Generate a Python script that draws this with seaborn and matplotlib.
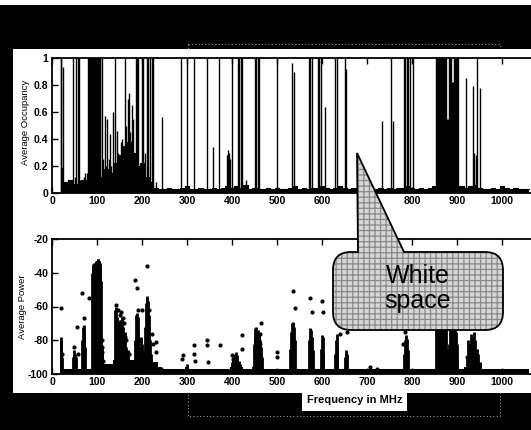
import matplotlib
matplotlib.use("Agg")
import matplotlib.pyplot as plt
import seaborn as sns
import pandas as pd
from matplotlib import patches, transforms, font_manager
from matplotlib.path import Path

# ---------------- data ----------------
# Average occupancy: individual channel lines
occ_freq = [19, 20, 22, 24, 27, 30, 35, 40, 44, 47, 50, 53, 57, 60, 63, 66, 70, 74, 77,
            80, 82, 84, 86, 88, 90, 92, 94, 96, 98, 100, 102, 104, 106, 107,
            111, 114, 117, 120, 123, 126, 129, 132, 136, 140, 144, 147, 150, 153, 156, 159,
            162, 165, 168, 171, 174, 177, 180, 183, 186, 189, 192, 196, 199, 203, 206, 211,
            214, 218, 222, 225, 230, 244, 287, 300, 316, 345, 358, 371, 389, 391, 393, 396,
            400, 413, 416, 419, 422, 430, 451, 454, 457, 460, 499, 534, 537, 571, 574, 577,
            591, 594, 598, 607, 629, 633, 650, 653, 733, 753, 758, 782, 785, 788, 791, 795,
            802, 853, 855, 857, 859, 861, 863, 865, 867, 869, 871, 873, 875, 877, 879, 881,
            883, 885, 887, 889, 891, 893, 895, 897, 899, 901, 920, 935, 938, 941, 945, 950]
occ_val = [1.0, 1.0, 0.19, 0.93, 0.08, 0.05, 0.1, 0.08, 0.06, 1.0, 0.12, 1.0, 1.0, 1.0, 0.1, 0.08, 0.12, 0.15, 0.15,
           1.0, 1.0, 1.0, 1.0, 1.0, 1.0, 1.0, 1.0, 1.0, 1.0, 1.0, 1.0, 1.0, 1.0, 1.0,
           1.0, 0.25, 0.57, 0.2, 0.55, 0.25, 0.44, 0.2, 0.6, 1.0, 0.46, 0.3, 0.25, 0.38, 0.4, 0.35,
           1.0, 0.5, 0.7, 0.74, 0.45, 0.65, 0.55, 0.3, 1.0, 1.0, 1.0, 0.2, 1.0, 1.0, 0.3, 1.0,
           1.0, 1.0, 1.0, 1.0, 0.08, 0.56, 1.0, 1.0, 1.0, 1.0, 0.34, 1.0, 0.28, 0.32, 0.3, 0.25,
           1.0, 1.0, 1.0, 1.0, 1.0, 0.1, 1.0, 1.0, 1.0, 1.0, 1.0, 0.96, 0.9, 1.0, 1.0, 1.0,
           1.0, 1.0, 1.0, 0.64, 1.0, 1.0, 1.0, 0.92, 0.53, 1.0, 0.53, 1.0, 1.0, 1.0, 1.0, 1.0,
           1.0, 1.0, 1.0, 1.0, 1.0, 1.0, 1.0, 1.0, 1.0, 1.0, 1.0, 1.0, 1.0, 0.55, 0.55, 1.0,
           1.0, 1.0, 1.0, 0.82, 0.82, 1.0, 1.0, 1.0, 1.0, 1.0, 0.85, 0.79, 0.3, 0.28, 1.0, 0.78]

# Occupancy noise floor (every 10 MHz)
floor_freq = [20, 30, 40, 50, 60, 70, 80, 90, 100, 110, 120, 130, 140, 150, 160, 170, 180, 190, 200, 210,
              220, 230, 240, 250, 260, 270, 280, 290, 300, 310, 320, 330, 340, 350, 360, 370, 380, 390, 400, 410,
              420, 430, 440, 450, 460, 470, 480, 490, 500, 510, 520, 530, 540, 550, 560, 570, 580, 590, 600, 610,
              620, 630, 640, 650, 660, 670, 680, 690, 700, 710, 720, 730, 740, 750, 760, 770, 780, 790, 800, 810,
              820, 830, 840, 850, 860, 870, 880, 890, 900, 910, 920, 930, 940, 950, 960, 970, 980, 990, 1000, 1010,
              1020, 1030, 1040, 1050, 1060]
floor_occ = [0.05, 0.08, 0.1, 0.07, 0.06, 0.1, 0.05, 0.05, 0.05, 0.12, 0.18, 0.15, 0.22, 0.28, 0.35, 0.38, 0.3, 0.2, 0.22, 0.12,
             0.08, 0.04, 0.03, 0.03, 0.04, 0.03, 0.03, 0.04, 0.05, 0.03, 0.03, 0.04, 0.03, 0.03, 0.04, 0.03, 0.04, 0.05, 0.04, 0.05,
             0.04, 0.06, 0.03, 0.04, 0.03, 0.03, 0.04, 0.03, 0.04, 0.03, 0.03, 0.04, 0.05, 0.03, 0.04, 0.03, 0.04, 0.04, 0.05, 0.04,
             0.03, 0.04, 0.05, 0.04, 0.03, 0.04, 0.03, 0.03, 0.04, 0.03, 0.03, 0.04, 0.03, 0.04, 0.03, 0.04, 0.04, 0.05, 0.04, 0.03,
             0.04, 0.03, 0.04, 0.05, 0.05, 0.05, 0.05, 0.05, 0.04, 0.05, 0.04, 0.05, 0.06, 0.04, 0.03, 0.03, 0.04, 0.03, 0.05, 0.04,
             0.03, 0.04, 0.03, 0.03, 0.03]

# Average power noise floor (dBm)
floor_pow = [-97, -97, -97, -97, -97, -97, -97, -97, -97, -94, -94, -94, -92, -92, -92, -92, -92, -92, -92, -92,
             -92, -93, -96, -97, -97, -97, -97, -97, -96, -97, -97, -97, -97, -97, -97, -97, -97, -97, -96, -96,
             -96, -97, -97, -96, -96, -97, -97, -97, -97, -97, -97, -97, -97, -97, -97, -97, -97, -97, -97, -97,
             -97, -97, -97, -97, -97, -97, -97, -97, -97, -97, -97, -97, -97, -97, -97, -97, -97, -96, -97, -97,
             -97, -97, -97, -97, -96, -96, -96, -96, -96, -97, -96, -96, -96, -97, -97, -97, -97, -97, -97, -97,
             -97, -97, -97, -97, -97]

# Dense columns of power samples: frequency and top of the column
col_freq = [19, 20, 21, 22, 46, 48, 50, 52, 54, 66, 68, 70, 72, 74,
            89, 90, 91, 92, 93, 94, 95, 96, 97, 98, 99, 100, 101, 102, 103, 104, 105, 106, 107, 108,
            110, 112, 140, 142, 144, 146, 148, 150, 152, 154, 156, 158, 160, 162, 164, 168,
            184, 186, 188, 190, 192, 194, 196, 198, 200, 203, 206, 208, 210, 212, 214, 216, 218, 220,
            300, 400, 403, 406, 409, 412, 415, 418,
            448, 450, 452, 454, 456, 458, 460, 462, 464, 466,
            529, 531, 533, 535, 537, 539, 571, 573, 575, 577, 579, 597, 599, 601, 603,
            628, 630, 632, 634, 651, 653, 655, 782, 784, 786, 788, 790,
            853, 855, 857, 859, 861, 863, 865, 867, 869, 871, 873, 875, 878, 881, 884, 886, 888, 890,
            892, 894, 896, 898, 900, 922, 925, 928, 931, 934, 937, 940, 943, 946, 950]
col_top = [-78, -80, -85, -90, -90, -86, -88, -92, -90, -80, -72, -71, -74, -84,
           -40, -37, -36, -35, -34, -35, -35, -34, -34, -33, -33, -33, -33, -32, -32, -33, -33, -34, -36, -45,
           -84, -88, -62, -60, -66, -70, -75, -68, -70, -68, -66, -72, -78, -75, -84, -86,
           -80, -65, -64, -66, -75, -84, -85, -78, -82, -86, -72, -58, -55, -54, -57, -65, -80, -88,
           -94, -93, -90, -88, -87, -89, -92, -94,
           -82, -78, -73, -72, -75, -74, -76, -80, -84, -90,
           -85, -75, -70, -69, -72, -80, -80, -73, -74, -78, -86, -85, -77, -78, -88,
           -88, -80, -76, -84, -90, -86, -88, -88, -80, -77, -79, -86,
           -62, -58, -56, -55, -57, -58, -56, -57, -58, -60, -62, -66, -85, -82, -62, -58, -57, -60,
           -62, -65, -70, -75, -82, -90, -80, -82, -76, -78, -75, -80, -85, -88, -93]

# Isolated power samples
dot_freq = [20, 23, 48, 50, 55, 58, 67, 71, 83, 110, 112, 113, 111, 142, 146, 150, 154, 157, 156, 160,
            162, 165, 170, 185, 188, 192, 196, 200, 210, 215, 223, 225, 231, 231, 243, 288, 290, 316, 316, 318,
            345, 345, 346, 373, 400, 403, 405, 421, 422, 464, 462, 462, 463, 500, 500, 536, 540, 573, 578, 599,
            601, 631, 640, 655, 707, 721, 785, 788, 780, 922, 930, 948]
dot_pow = [-61, -88, -84, -95, -72, -88, -52, -67, -55, -80, -87, -92, -84, -59, -62, -65, -63, -67, -75, -70,
           -78, -80, -88, -44, -49, -62, -80, -62, -36, -62, -76, -82, -81, -87, -97, -91, -89, -83, -88, -92,
           -80, -83, -93, -83, -89, -91, -95, -77, -85, -70, -76, -82, -90, -87, -90, -51, -61, -55, -63, -57,
           -63, -90, -76, -75, -96, -97, -75, -92, -82, -90, -85, -95]

x_ticks = [0, 100, 200, 300, 400, 500, 600, 700, 800, 900, 1000]
occ_ticks = [0, 0.2, 0.4, 0.6, 0.8, 1]
occ_tick_labels = ["0", "0.2", "0.4", "0.6", "0.8", "1"]
pow_ticks = [-100, -80, -60, -40, -20]

# ---------------- styling ----------------
sns.set_theme(style="ticks")
avail = {f.name for f in font_manager.fontManager.ttflist}
narrow = "Liberation Sans Narrow" if "Liberation Sans Narrow" in avail else "Liberation Sans"
plt.rcParams["font.family"] = [narrow, "DejaVu Sans"]
plt.rcParams["axes.unicode_minus"] = False
plt.rcParams["hatch.linewidth"] = 0.9

W, H = 531, 430
fig = plt.figure(figsize=(W / 100, H / 100), dpi=100)
fig.patch.set_facecolor("black")
T = transforms.Affine2D().scale(1 / W, -1 / H).translate(0, 1) + fig.transFigure


def prect(x0, y0, x1, y1, **kw):
    r = patches.Rectangle((x0, y0), x1 - x0, y1 - y0, transform=T, **kw)
    fig.add_artist(r)
    return r


# scanned-page framing
prect(188, 44, 500, 416, fill=False, edgecolor="#9a9a9a", lw=0.8, ls=(0, (1, 2)), zorder=-6)
prect(0, 0, W, 5, facecolor="white", edgecolor="none", zorder=-5)
prect(13, 49, W, 393, facecolor="white", edgecolor="none", zorder=-5)

ax1 = fig.add_axes([52 / W, 1 - 193 / H, (W - 52) / W, 135 / H])
ax2 = fig.add_axes([52 / W, 1 - 374 / H, (W - 52) / W, 135 / H])

# top: average occupancy
ax1.fill_between(floor_freq, 0, floor_occ, step="mid", color="black", lw=0)
sns.lineplot(x=floor_freq, y=floor_occ, drawstyle="steps-mid", color="black", lw=0.8, ax=ax1)
ax1.vlines(occ_freq, 0, occ_val, color="black", lw=1.0)

# bottom: average power
ax2.fill_between(floor_freq, -100, floor_pow, step="mid", color="black", lw=0)
ax2.vlines(col_freq, -100, col_top, color="black", lw=2.0)
dots = pd.DataFrame({"freq": dot_freq, "power": dot_pow})
sns.scatterplot(data=dots, x="freq", y="power", ax=ax2, color="black", s=9,
                marker="o", linewidth=0, legend=False)

for ax in (ax1, ax2):
    ax.set_facecolor("white")
    ax.set_xlim(0, 1064)
    ax.set_xticks(x_ticks)
    ax.set_xticklabels([str(t) for t in x_ticks])
    ax.tick_params(direction="in", length=4, width=1, top=True, right=False,
                   labelsize=7.5, pad=2.5, colors="black")
    for sp in ax.spines.values():
        sp.set_visible(True)
        sp.set_color("black")
        sp.set_linewidth(1.3)
    ax.spines["right"].set_visible(False)
    ax.set_xlabel("")
    for lab in ax.get_xticklabels() + ax.get_yticklabels():
        lab.set_fontweight("bold")

ax1.set_ylim(0, 1.0)
ax1.set_yticks(occ_ticks)
ax1.set_yticklabels(occ_tick_labels, fontweight="bold")
ax1.set_ylabel("Average Occupancy", fontsize=6.8, color="black")
ax1.yaxis.set_label_coords(-0.046, 0.52)

ax2.set_ylim(-100, -20)
ax2.set_yticks(pow_ticks)
ax2.set_yticklabels([str(t) for t in pow_ticks], fontweight="bold")
ax2.set_ylabel("Average Power", fontsize=6.8, color="black")
ax2.yaxis.set_label_coords(-0.052, 0.5)

# x label in white box over black band
prect(302, 388, 407, 411, facecolor="white", edgecolor="none", zorder=5)
fig.text(355 / W, 1 - 400 / H, "Frequency in MHz", ha="center", va="center",
         fontsize=8, fontweight="bold", color="black", zorder=6)

# callout bubble
x0, x1, y0, y1, r = 333, 503, 252, 330, 18
verts = [(x0 + r, y0), (358, y0), (357, 153), (404, y0), (x1 - r, y0),
         (x1, y0), (x1, y0 + r), (x1, y1 - r), (x1, y1), (x1 - r, y1),
         (x0 + r, y1), (x0, y1), (x0, y1 - r), (x0, y0 + r), (x0, y0), (x0 + r, y0),
         (x0 + r, y0)]
codes = [Path.MOVETO, Path.LINETO, Path.LINETO, Path.LINETO, Path.LINETO,
         Path.CURVE3, Path.CURVE3, Path.LINETO, Path.CURVE3, Path.CURVE3,
         Path.LINETO, Path.CURVE3, Path.CURVE3, Path.LINETO, Path.CURVE3, Path.CURVE3,
         Path.CLOSEPOLY]
bubble = Path(verts, codes)
fig.add_artist(patches.PathPatch(bubble, transform=T, facecolor="#d6d6d6",
                                 edgecolor="#8a8a8a", hatch="+++", lw=0, zorder=8))
fig.add_artist(patches.PathPatch(bubble, transform=T, fill=False,
                                 edgecolor="black", lw=1.3, zorder=9))
fig.text(418 / W, 1 - 283 / H, "White", ha="center", va="baseline", fontsize=18,
         family=["Liberation Sans", "DejaVu Sans"], color="black", zorder=10)
fig.text(418 / W, 1 - 308 / H, "space", ha="center", va="baseline", fontsize=18,
         family=["Liberation Sans", "DejaVu Sans"], color="black", zorder=10)

fig.savefig("out.png", dpi=100, facecolor=fig.get_facecolor())
